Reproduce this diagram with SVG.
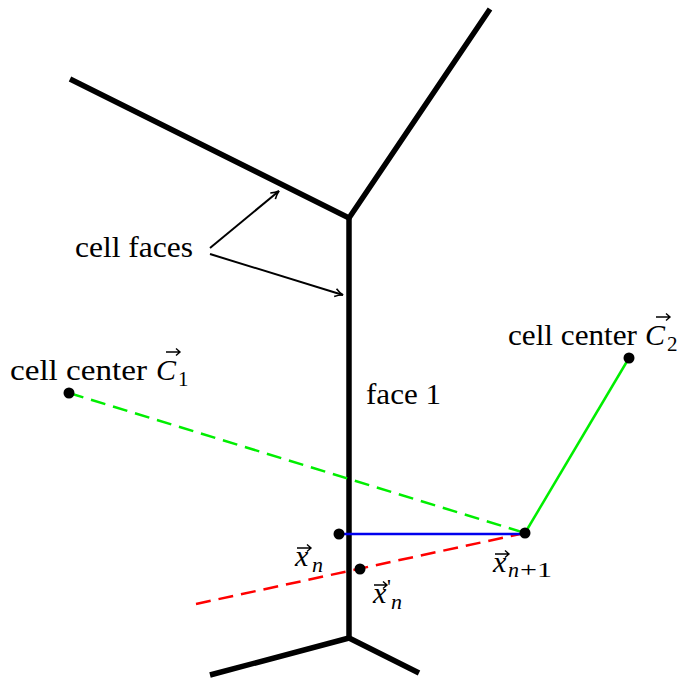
<svg xmlns="http://www.w3.org/2000/svg" width="688" height="682" viewBox="0 0 688 682">
<style>
.face{stroke:#000;stroke-width:5.5;fill:none;stroke-linecap:butt;stroke-linejoin:miter}
text{font-family:'Liberation Serif','DejaVu Serif',serif;fill:#000}
.lbl{font-size:30px}
.math{font-style:italic;font-size:30px}
.sub{font-size:21px;font-style:normal}
.subi{font-style:italic;font-size:22px}
.prm{font-style:normal;font-size:22px}
.vec{stroke:#000;stroke-width:1.4;fill:none}
.dot{fill:#000}
.ptr{stroke:#000;stroke-width:2;fill:none}
</style>
<defs>
<marker id="ah" viewBox="0 0 10 10" refX="9" refY="5" markerWidth="10" markerHeight="10" markerUnits="userSpaceOnUse" orient="auto">
<path d="M1,1 Q5,4 9,5 Q5,6 1,9" fill="none" stroke="#000" stroke-width="1.6"/>
</marker>
</defs>
<g id="faces">
<path class="face" d="M70,79 L349,218 L490,9"/>
<path class="face" d="M349,218 L349,638"/>
<path class="face" d="M210,675 L349,638 L419,673"/>
</g>
<g id="connectors">
<line x1="69" y1="393" x2="525" y2="533" stroke="#00ee00" stroke-width="2.5" stroke-dasharray="15 8"/>
<line x1="525" y1="533" x2="629" y2="358" stroke="#00ee00" stroke-width="2.5"/>
<line x1="196" y1="604" x2="525" y2="533" stroke="#ff0000" stroke-width="2.5" stroke-dasharray="15 8"/>
<line x1="339" y1="534" x2="525" y2="534" stroke="#0000ee" stroke-width="2.5"/>
<line class="ptr" x1="210" y1="248" x2="279" y2="191" marker-end="url(#ah)"/>
<line class="ptr" x1="210" y1="254" x2="343" y2="295" marker-end="url(#ah)"/>
</g>
<g id="label-cell-faces">
<text class="lbl" x="75" y="257" textLength="118" lengthAdjust="spacingAndGlyphs">cell faces</text>
</g>
<g id="label-face1">
<text class="lbl" x="366" y="404" textLength="75" lengthAdjust="spacingAndGlyphs">face 1</text>
</g>
<g id="node-c1">
<circle class="dot" cx="69" cy="393" r="5.5"/>
<text class="lbl" x="10" y="380"><tspan textLength="137" lengthAdjust="spacingAndGlyphs">cell center</tspan><tspan class="math" x="156">C</tspan><tspan class="sub" x="178" dy="6">1</tspan></text>
<path class="vec" d="M166,352 H180 M176,348.5 L180,352 L176,355.5"/>
</g>
<g id="node-c2">
<circle class="dot" cx="629" cy="358" r="5.5"/>
<text class="lbl" x="508" y="345"><tspan textLength="129" lengthAdjust="spacingAndGlyphs">cell center</tspan><tspan class="math" x="645">C</tspan><tspan class="sub" x="667" dy="6">2</tspan></text>
<path class="vec" d="M656,317 H670 M666,313.5 L670,317 L666,320.5"/>
</g>
<g id="node-xn">
<circle class="dot" cx="339" cy="534" r="5.5"/>
<text class="math" x="295" y="566">x<tspan class="subi" x="312" dy="6">n</tspan></text>
<path class="vec" d="M297,548 H311 M307,544.5 L311,548 L307,551.5"/>
</g>
<g id="node-xnp">
<circle class="dot" cx="360" cy="569" r="5.5"/>
<text class="math" x="373" y="603">x<tspan class="prm" x="387" dy="-9">'</tspan><tspan class="subi" x="391" dy="15">n</tspan></text>
<path class="vec" d="M374,585 H387 M383,581.5 L387,585 L383,588.5"/>
</g>
<g id="node-xn1">
<circle class="dot" cx="525" cy="533" r="5.5"/>
<text class="math" x="493" y="572">x<tspan class="subi" x="508" dy="5">n</tspan><tspan class="sub" x="520" textLength="32" lengthAdjust="spacingAndGlyphs">+1</tspan></text>
<path class="vec" d="M495,554 H509 M505,550.5 L509,554 L505,557.5"/>
</g>
</svg>
